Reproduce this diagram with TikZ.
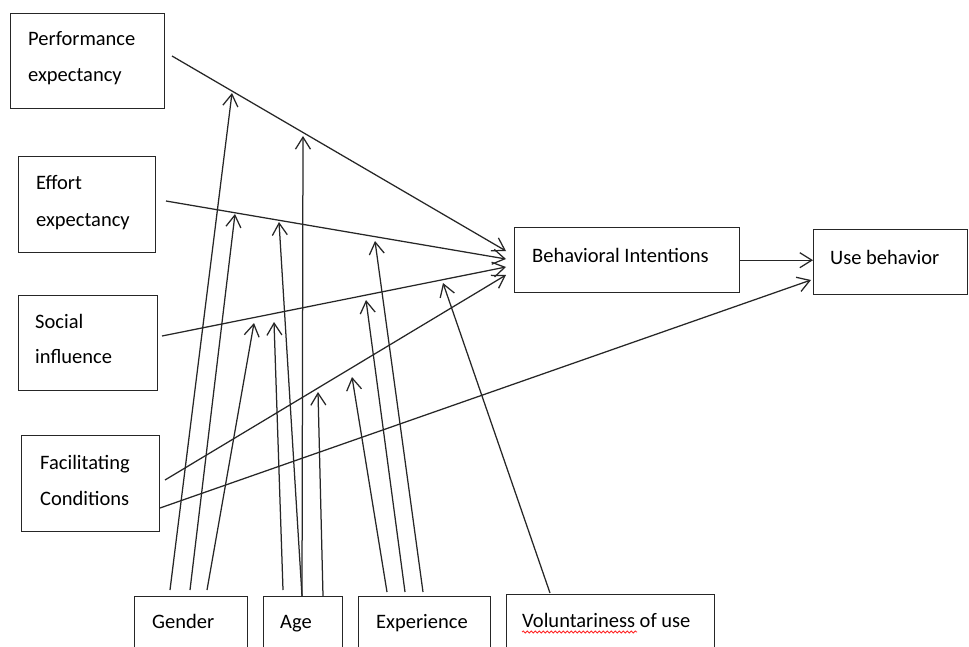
\documentclass[tikz,border=0pt]{standalone}
\usepackage{fontspec}
\setmainfont{Carlito}
\usetikzlibrary{arrows.meta,decorations.pathmorphing}
\begin{document}
\begin{tikzpicture}[x=1pt,y=-1pt,
  box/.style={draw=black!85, line width=1.4pt, inner sep=0pt, anchor=north west},
  lbl/.style={anchor=base west, inner sep=0pt, font=\fontsize{20.5}{24}\selectfont, text=black},
  link/.style={draw=black!85, line width=1.25pt,
    -{Straight Barb[length=12pt,width=15pt,line width=1.25pt]}}]

\clip (0,0) rectangle (969,647);
\fill[white] (0,0) rectangle (969,647);

% construct boxes
\node[box, minimum width=154pt, minimum height=95pt] (pe) at (10,13) {};
\node[box, minimum width=137pt, minimum height=96pt] (ee) at (18,156) {};
\node[box, minimum width=139pt, minimum height=95pt] (si) at (18,295) {};
\node[box, minimum width=138pt, minimum height=96pt] (fc) at (21,435) {};
\node[box, minimum width=225pt, minimum height=65pt] (bi) at (514,227) {};
\node[box, minimum width=154pt, minimum height=65pt] (ub) at (813,229) {};
% moderator boxes (run past the lower edge)
\node[box, minimum width=113pt, minimum height=70pt] (gen) at (134,596) {};
\node[box, minimum width=79pt, minimum height=70pt] (age) at (263,596) {};
\node[box, minimum width=132pt, minimum height=70pt] (exp) at (358,596) {};
\node[box, minimum width=208pt, minimum height=72pt] (vol) at (506,594) {};

% labels
\node[lbl] (pe-t1) at (28,46) {Performance};
\node[lbl] (pe-t2) at (28,82) {expectancy};
\node[lbl] (ee-t1) at (36,190) {Effort};
\node[lbl] (ee-t2) at (36,226) {expectancy};
\node[lbl] (si-t1) at (35,328) {Social};
\node[lbl] (si-t2) at (35,363) {influence};
\node[lbl] (fc-t1) at (40,469) {Facilitating};
\node[lbl] (fc-t2) at (40,505) {Conditions};
\node[lbl] (bi-t) at (532,262) {Behavioral Intentions};
\node[lbl] (ub-t) at (830,264) {Use behavior};
\node[lbl] (gen-t) at (152,628) {Gender};
\node[lbl] (age-t) at (280,628) {Age};
\node[lbl] (exp-t) at (376,628) {Experience};
\node[lbl] (vol-t) at (522,627) {Voluntariness of use};
\draw[red!85, line width=0.8pt, decorate,
  decoration={snake, amplitude=1pt, segment length=4pt}] (522,632) -- (637,632);

% line ends of the main paths
\coordinate (pe-o) at (172,56);
\coordinate (ee-o) at (166,201);
\coordinate (si-o) at (162,336);
\coordinate (fc-o1) at (165,480);
\coordinate (fc-o2) at (160,508);
\coordinate (bi-i1) at (506,251);
\coordinate (bi-i2) at (506,259);
\coordinate (bi-i3) at (506,267);
\coordinate (bi-i4) at (506,275);
\coordinate (ub-i2) at (811,280);

% main paths
\draw[link] (pe-o) -- (bi-i1);
\draw[link] (ee-o) -- (bi-i2);
\draw[link] (si-o) -- (bi-i3);
\draw[link] (fc-o1) -- (bi-i4);
\draw[link] (fc-o2) -- (ub-i2);
\draw[link] (bi.east) -- (bi.east -| ub.west);

% moderator starts
\coordinate (g1) at (170,590);
\coordinate (g2) at (190,590);
\coordinate (g3) at (207,590);
\coordinate (a1) at (283,590);
\coordinate (a2) at (302,596);
\coordinate (a3) at (323,596);
\coordinate (x1) at (387,592);
\coordinate (x2) at (405,592);
\coordinate (x3) at (423,592);
\coordinate (v1) at (550,593);

% moderator targets on the main paths
\coordinate (m-g1) at (232,93);
\coordinate (m-g2) at (235,214);
\coordinate (m-g3) at (254,323);
\coordinate (m-a1) at (274,322);
\coordinate (m-a2) at (303,136);
\coordinate (m-a3) at (279,222);
\coordinate (m-a4) at (318,392);
\coordinate (m-x1) at (352,377);
\coordinate (m-x2) at (366,300);
\coordinate (m-x3) at (375,241);
\coordinate (m-v1) at (443,283);

% moderator paths
\draw[link] (g1) -- (m-g1);
\draw[link] (g2) -- (m-g2);
\draw[link] (g3) -- (m-g3);
\draw[link] (a1) -- (m-a1);
\draw[link] (a2) -- (m-a2);
\draw[link] (a2) -- (m-a3);
\draw[link] (a3) -- (m-a4);
\draw[link] (x1) -- (m-x1);
\draw[link] (x2) -- (m-x2);
\draw[link] (x3) -- (m-x3);
\draw[link] (v1) -- (m-v1);
\end{tikzpicture}
\end{document}
